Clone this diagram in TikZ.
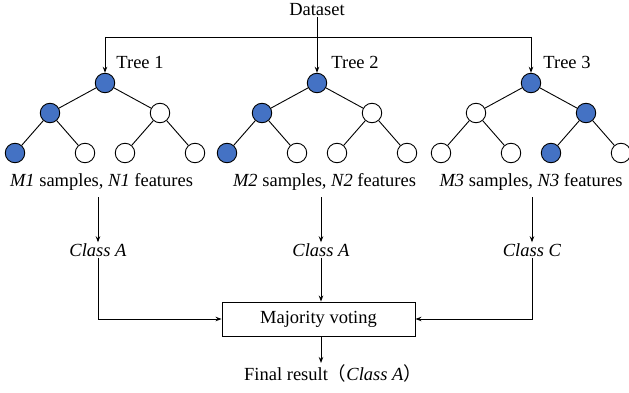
\documentclass[tikz,border=0pt]{standalone}
\usepackage{fontspec}
\setmainfont{Liberation Serif}
\newfontfamily\cjkfont{Noto Sans CJK SC}
\usetikzlibrary{arrows.meta}
\begin{document}
\begin{tikzpicture}[x=1pt,y=-1pt,
  every node/.style={font=\fontsize{18.5}{22}\selectfont},
  line/.style={line width=0.9pt},
  arr/.style={line width=0.9pt,-{Stealth[length=6pt,width=4.5pt]}},
  nb/.style={circle,draw,line width=0.9pt,minimum size=19.5pt,inner sep=0pt,fill=filled},
  nw/.style={circle,draw,line width=0.9pt,minimum size=19.5pt,inner sep=0pt,fill=white},
  txt/.style={inner sep=1pt},
  vbox/.style={draw,line width=0.9pt,minimum width=193pt,minimum height=34pt,inner sep=0pt}]
\definecolor{filled}{HTML}{4472C4}
\useasboundingbox (0,0) rectangle (629,393);
% Dataset
\node[txt] (ds) at (317,10) {Dataset};
% Tree 1
\node[nb] (a0) at (105,83) {};
\node[nb] (a1) at (50,113) {};
\node[nw] (a2) at (160,113) {};
\node[nb] (a3) at (15,153) {};
\node[nw] (a4) at (85,153) {};
\node[nw] (a5) at (125,153) {};
\node[nw] (a6) at (195,153) {};
% Tree 2
\node[nb] (b0) at (317,83) {};
\node[nb] (b1) at (262,113) {};
\node[nw] (b2) at (372,113) {};
\node[nb] (b3) at (227,153) {};
\node[nw] (b4) at (297,153) {};
\node[nw] (b5) at (337,153) {};
\node[nw] (b6) at (407,153) {};
% Tree 3
\node[nb] (c0) at (531,83) {};
\node[nw] (c1) at (476,113) {};
\node[nb] (c2) at (586,113) {};
\node[nw] (c3) at (441,153) {};
\node[nw] (c4) at (511,153) {};
\node[nb] (c5) at (551,153) {};
\node[nw] (c6) at (621,153) {};
\foreach \t in {a,b,c}{
  \draw[line] (\t0) -- (\t1);
  \draw[line] (\t0) -- (\t2);
  \draw[line] (\t1) -- (\t3);
  \draw[line] (\t1) -- (\t4);
  \draw[line] (\t2) -- (\t5);
  \draw[line] (\t2) -- (\t6);
}
% Tree labels
\node[txt] (t1) at (140,62) {Tree 1};
\node[txt] (t2) at (355,62) {Tree 2};
\node[txt] (t3) at (567,62) {Tree 3};
% Dataset connectors
\coordinate (hl) at (105,37);
\coordinate (hr) at (531,37);
\draw[line] (hl) -- (hr);
\draw[arr] (ds.south) -- (b0.north);
\draw[arr] (hl) -- (a0.north);
\draw[arr] (hr) -- (c0.north);
% Sample labels
\node[txt] (l1) at (101.5,182) {\textit{M1} samples, \textit{N1} features};
\node[txt] (l2) at (324.5,182) {\textit{M2} samples, \textit{N2} features};
\node[txt] (l3) at (531,182) {\textit{M3} samples, \textit{N3} features};
% Classes
\node[txt] (k1) at (98,250) {\textit{Class A}};
\node[txt] (k2) at (321,250) {\textit{Class A}};
\node[txt] (k3) at (532,250) {\textit{Class C}};
\coordinate (s1) at (98,197);
\coordinate (s2) at (321,197);
\coordinate (s3) at (532,197);
\draw[arr] (s1) -- (k1.north);
\draw[arr] (s2) -- (k2.north);
\draw[arr] (s3) -- (k3.north);
% Majority voting
\node[vbox] (mv) at (318.5,319) {Majority voting};
\draw[arr] (k2.south) -- (k2.south |- mv.north);
\draw[arr] (k1.south) |- (mv.west);
\draw[arr] (k3.south) |- (mv.east);
% Final result
\node[txt,anchor=west] (fr) at (243,373) {Final result{\cjkfont （}\textit{Class A}{\cjkfont ）}};
\draw[arr] (mv.south -| k2) -- (k2 |- fr.north);
\end{tikzpicture}
\end{document}
